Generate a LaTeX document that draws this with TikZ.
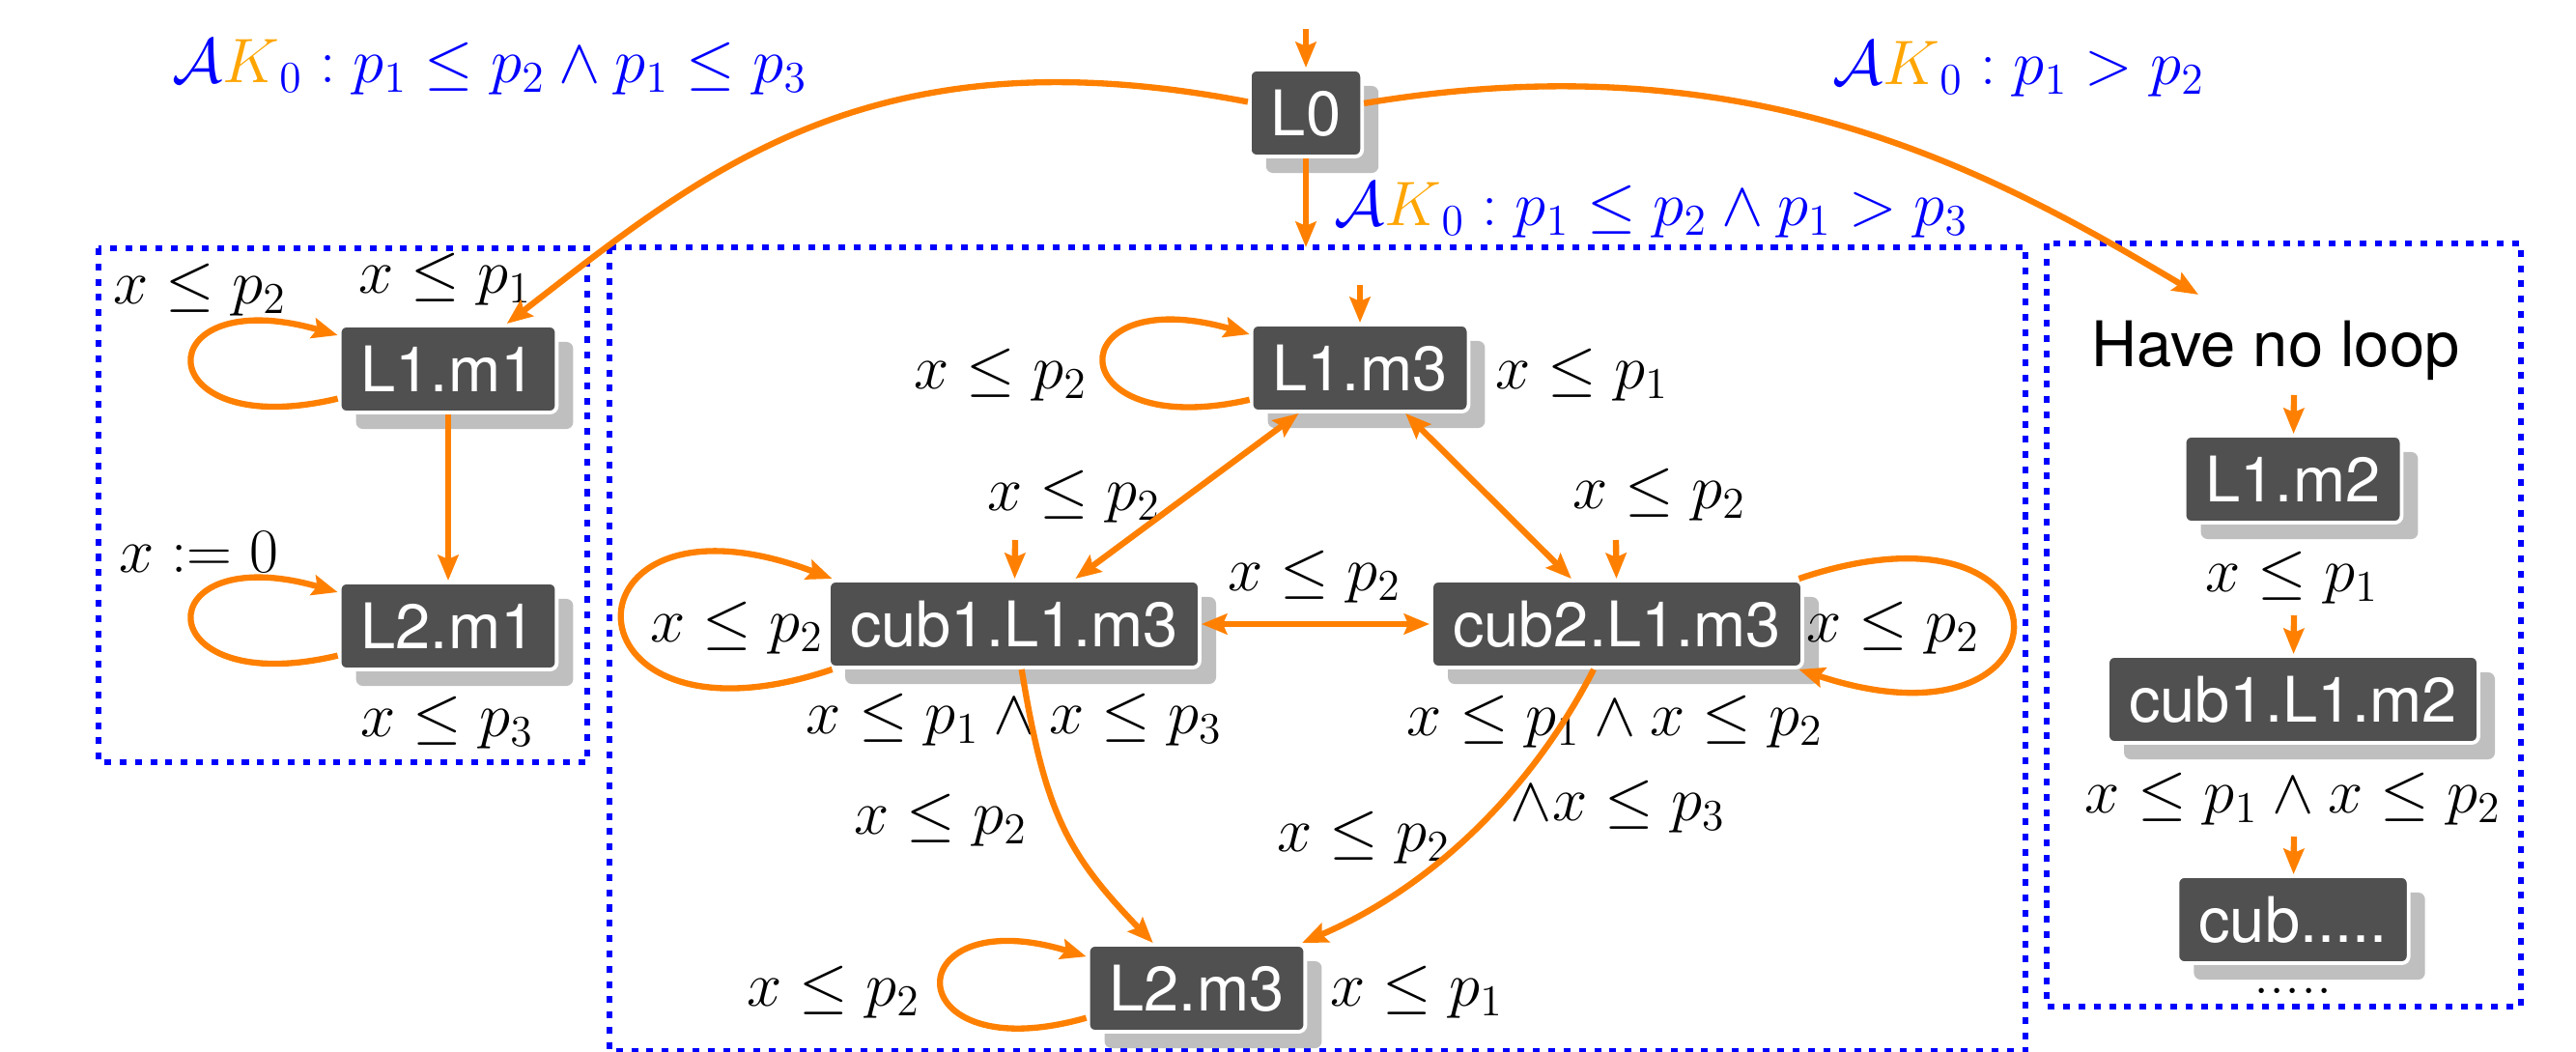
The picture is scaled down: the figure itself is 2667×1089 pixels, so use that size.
\RequirePackage{fix-cm}
\documentclass[tikz,border=0pt]{standalone}
\usepackage{fontspec}
\newfontfamily\hvfont{TeX Gyre Heros}
\usetikzlibrary{arrows.meta,shadows}
\definecolor{boxgray}{RGB}{80,80,80}
\definecolor{shadowgray}{RGB}{191,191,191}
\definecolor{arrorange}{RGB}{255,128,0}
\definecolor{korange}{RGB}{255,165,0}
\definecolor{lblblue}{RGB}{0,0,255}
\tikzset{
  every node/.style={font=\fontsize{18.5}{22}\selectfont, inner sep=0pt},
  loc/.style={rectangle, rounded corners=0.07cm, fill=boxgray, draw=white, line width=1.1pt,
    text=white, font=\hvfont\fontsize{18.5}{22}\selectfont, inner xsep=0.22cm, inner ysep=0pt,
    text height=0.47cm, text depth=0cm, minimum height=0.9cm,
    drop shadow={shadow xshift=0.17cm, shadow yshift=-0.17cm, fill=shadowgray, opacity=1}},
  arr/.style={draw=arrorange, line width=1.8pt, -{Stealth[length=7.5pt,width=6pt,inset=1.2pt]}},
  barr/.style={draw=arrorange, line width=1.8pt, {Stealth[length=7.5pt,width=6pt,inset=1.2pt]}-{Stealth[length=7.5pt,width=6pt,inset=1.2pt]}},
  frame/.style={draw=blue, line width=1.8pt, dash pattern=on 2pt off 2.5pt},
  ak/.style={text=lblblue},
  plain/.style={font=\hvfont\fontsize{18.5}{22}\selectfont},
}
\begin{document}
\begin{tikzpicture}[x=0.01cm,y=-0.01cm]
\useasboundingbox (0,0) rectangle (2667,1089);
% frames
\draw[frame] (102,257) rectangle (608,789);
\draw[frame] (631,256) rectangle (2097,1088);
\draw[frame] (2119,252) rectangle (2610,1042);
% locations
\node[loc] (L0) at (1352,117) {L0};
\node[loc] (L1m1) at (464,382) {L1.m1};
\node[loc] (L2m1) at (464,648) {L2.m1};
\node[loc] (L1m3) at (1408,381) {L1.m3};
\node[loc] (cub1) at (1050,646) {cub1.L1.m3};
\node[loc] (cub2) at (1674,646) {cub2.L1.m3};
\node[loc] (L2m3) at (1239,1023) {L2.m3};
\node[loc] (L1m2) at (2374,496) {L1.m2};
\node[loc] (cL1m2) at (2374,724) {cub1.L1.m2};
\node[loc] (cubd) at (2374,952) {cub.....};
\node[plain] (hnl) at (2356,363) {Have no loop};
\node (dots) at (2374,1026) {.....};
% coordinates
\coordinate (i0) at (1352,30);
\coordinate (mtop) at (1352,256);
\coordinate (rtip) at (2276,305);
\coordinate (i3) at (1408,295);
\coordinate (ic1) at (1051,559);
\coordinate (ic2) at (1673,559);
\coordinate (ir1) at (2375,409);
\coordinate (ir2) at (2375,637);
\coordinate (ir3) at (2375,866);
% top labels
\node[ak] (t1) at (507,70) {$\mathcal{A}{\color{korange}K}_0 : p_1 \leq p_2 \wedge p_1 \leq p_3$};
\node[ak] (t2) at (2090,72) {$\mathcal{A}{\color{korange}K}_0 : p_1 > p_2$};
\node[ak,anchor=west] (t3) at (1381,218) {$\mathcal{A}{\color{korange}K}_0 : p_1 \leq p_2 \wedge p_1 > p_3$};
% guard / invariant labels
\node (g1) at (207,300) {$x \leq p_2$};
\node (g2) at (461,289) {$x \leq p_1$};
\node (g3) at (206,572) {$x := 0$};
\node (g4) at (463,748) {$x \leq p_3$};
\node (g5) at (1036,388) {$x \leq p_2$};
\node (g6) at (1638,388) {$x \leq p_1$};
\node (g7) at (1112,514) {$x \leq p_2$};
\node (g8) at (1718,512) {$x \leq p_2$};
\node (g9) at (1361,597) {$x \leq p_2$};
\node (g10) at (763,650) {$x \leq p_2$};
\node (g11) at (1960,650) {$x \leq p_2$};
\node (g12) at (1050,745) {$x \leq p_1 \wedge x \leq p_3$};
\node (g13) at (1672,747) {$x \leq p_1 \wedge x \leq p_2$};
\node (g14) at (1675,835) {$\wedge x \leq p_3$};
\node (g15) at (974,849) {$x \leq p_2$};
\node (g16) at (1412,867) {$x \leq p_2$};
\node (g17) at (863,1027) {$x \leq p_2$};
\node (g18) at (1467,1027) {$x \leq p_1$};
\node (g19) at (2373,598) {$x \leq p_1$};
\node (g20) at (2374,827) {$x \leq p_1 \wedge x \leq p_2$};
% edges
\draw[arr] (i0) -- (L0);
\draw[arr] (L0) -- (mtop);
\draw[arr] (L0) .. controls (900,30) and (728,178) .. (L1m1);
\draw[arr] (L0) .. controls (1813,40) and (2061,177) .. (rtip);
\draw[arr] (L1m1.195) .. controls (150,460) and (150,290) .. (L1m1.163);
\draw[arr] (L2m1.195) .. controls (150,726) and (150,556) .. (L2m1.163);
\draw[arr] (L1m1) -- (L2m1);
\draw[arr] (i3) -- (L1m3);
\draw[arr] (L1m3.196) .. controls (1094,459) and (1094,289) .. (L1m3.163);
\draw[barr] (L1m3) -- (cub1);
\draw[barr] (L1m3) -- (cub2);
\draw[barr] (cub1) -- (cub2);
\draw[arr] (ic1) -- (cub1);
\draw[arr] (ic2) -- (cub2);
\draw[arr] (cub1.194) .. controls (573,790) and (573,490) .. (cub1.166);
\draw[arr] (cub2.14) .. controls (2156,500) and (2156,790) .. (cub2.346);
\draw[arr] (cub1) .. controls (1082,841) and (1104,883) .. (L2m3);
\draw[arr] (cub2) .. controls (1590,810) and (1490,915) .. (L2m3);
\draw[arr] (L2m3.195) .. controls (926,1110) and (926,930) .. (L2m3.164);
\draw[arr] (ir1) -- (L1m2);
\draw[arr] (ir2) -- (cL1m2);
\draw[arr] (ir3) -- (cubd);
\end{tikzpicture}
\end{document}
